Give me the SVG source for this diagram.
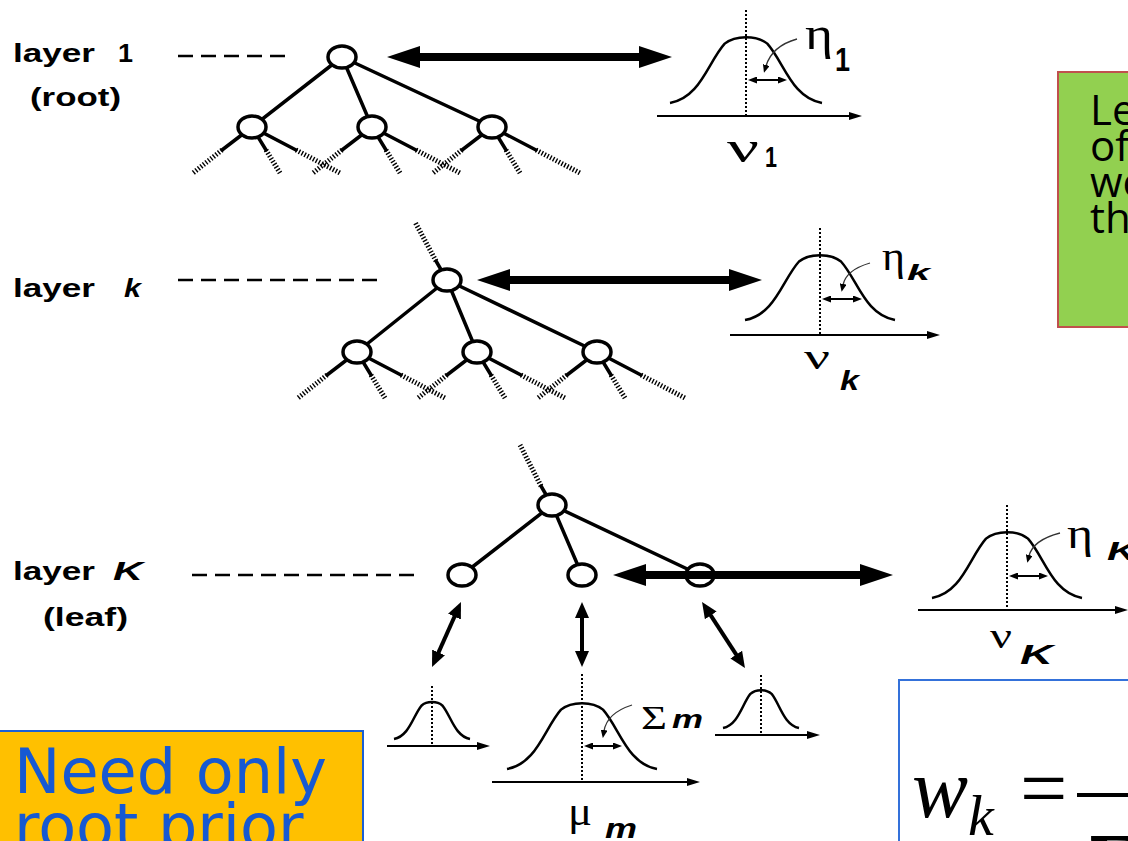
<svg xmlns="http://www.w3.org/2000/svg" width="1128" height="841" viewBox="0 0 1128 841">
<defs>
<style>
.lbl{font-family:"Liberation Sans",Arial,sans-serif;font-weight:bold;fill:#000}
.it{font-style:italic}
.gr{font-family:"Liberation Serif","Times New Roman",serif;fill:#000}
.edge{stroke:#000;stroke-width:3.5;fill:none;stroke-linecap:round}
.hatch{stroke:#000;stroke-width:5;stroke-dasharray:1.4 1.8;fill:none}
.node{fill:#fff;stroke:#000;stroke-width:3.5}
.dash{stroke:#000;stroke-width:2.5;stroke-dasharray:15 8}
.big{stroke:#000;stroke-width:8;marker-start:url(#bigHead);marker-end:url(#bigHead)}
.small{stroke:#000;stroke-width:4;marker-start:url(#smHead);marker-end:url(#smHead)}
.bell{fill:none;stroke:#000;stroke-width:2.5}
.axis{stroke:#000;stroke-width:2;marker-end:url(#axHead)}
.dot{stroke:#000;stroke-width:2;stroke-dasharray:2 2}
.wid{stroke:#000;stroke-width:2;marker-start:url(#wHead);marker-end:url(#wHead)}
.ptr{stroke:#333;stroke-width:1.3;fill:none;marker-end:url(#pHead)}
</style>
<marker id="bigHead" markerUnits="userSpaceOnUse" markerWidth="33" markerHeight="22" refX="13" refY="11" orient="auto-start-reverse"><path d="M0,0 L33,11 L0,22 z" fill="#000"/></marker>
<marker id="smHead" markerUnits="userSpaceOnUse" markerWidth="16" markerHeight="14" refX="6" refY="7" orient="auto-start-reverse"><path d="M0,0 L16,7 L0,14 z" fill="#000"/></marker>
<marker id="axHead" markerUnits="userSpaceOnUse" markerWidth="13" markerHeight="8" refX="3" refY="4" orient="auto"><path d="M0,0 L13,4 L0,8 z" fill="#000"/></marker>
<marker id="wHead" markerUnits="userSpaceOnUse" markerWidth="9" markerHeight="7" refX="2" refY="3.5" orient="auto-start-reverse"><path d="M0,0 L9,3.5 L0,7 z" fill="#000"/></marker>
<marker id="pHead" markerUnits="userSpaceOnUse" markerWidth="8" markerHeight="7" refX="1" refY="3.5" orient="auto"><path d="M0,0 L8,3.5 L0,7 z" fill="#000"/></marker>
<g id="sub">
<line class="edge" x1="0" y1="0" x2="-30" y2="23"/><line class="hatch" x1="-30" y1="23" x2="-59" y2="46"/>
<line class="edge" x1="0" y1="0" x2="14" y2="23"/><line class="hatch" x1="14" y1="23" x2="28" y2="46"/>
<line class="edge" x1="0" y1="0" x2="44" y2="23"/><line class="hatch" x1="44" y1="23" x2="88" y2="46"/>
</g>
</defs>
<rect width="1128" height="841" fill="#fff"/>

<g id="labels">
<text class="lbl" x="13" y="62" font-size="26" textLength="82" lengthAdjust="spacingAndGlyphs">layer</text>
<text class="lbl" x="118" y="62" font-size="26" textLength="15" lengthAdjust="spacingAndGlyphs">1</text>
<text class="lbl" x="30" y="106" font-size="26" textLength="91" lengthAdjust="spacingAndGlyphs">(root)</text>
<text class="lbl" x="13" y="297" font-size="26" textLength="82" lengthAdjust="spacingAndGlyphs">layer</text>
<text class="lbl it" x="124" y="297" font-size="26" textLength="17" lengthAdjust="spacingAndGlyphs">k</text>
<text class="lbl" x="13" y="580" font-size="26" textLength="82" lengthAdjust="spacingAndGlyphs">layer</text>
<text class="lbl it" x="113" y="580" font-size="26" textLength="30" lengthAdjust="spacingAndGlyphs">K</text>
<text class="lbl" x="43" y="626" font-size="26" textLength="85" lengthAdjust="spacingAndGlyphs">(leaf)</text>
</g>

<g id="connectors">
<line class="dash" x1="178" y1="56" x2="286" y2="56"/>
<line class="dash" x1="178" y1="280" x2="382" y2="280"/>
<line class="dash" x1="192" y1="575" x2="418" y2="575"/>
<line class="edge" x1="342" y1="57" x2="252" y2="127"/>
<line class="edge" x1="342" y1="57" x2="372" y2="127"/>
<line class="edge" x1="342" y1="57" x2="492" y2="127"/>
<use href="#sub" x="252" y="127"/><use href="#sub" x="372" y="127"/><use href="#sub" x="492" y="127"/>
<line class="edge" x1="447" y1="280" x2="436" y2="261"/><line class="hatch" x1="436" y1="261" x2="415" y2="222"/>
<line class="edge" x1="447" y1="280" x2="357" y2="352"/>
<line class="edge" x1="447" y1="280" x2="477" y2="352"/>
<line class="edge" x1="447" y1="280" x2="597" y2="352"/>
<use href="#sub" x="357" y="352"/><use href="#sub" x="477" y="352"/><use href="#sub" x="597" y="352"/>
<line class="edge" x1="552" y1="505" x2="541" y2="486"/><line class="hatch" x1="541" y1="486" x2="520" y2="445"/>
<line class="edge" x1="552" y1="505" x2="462" y2="575"/>
<line class="edge" x1="552" y1="505" x2="582" y2="575"/>
<line class="edge" x1="552" y1="505" x2="700" y2="575"/>
</g>

<g id="n1root"><ellipse class="node" cx="342" cy="57" rx="14" ry="11"/></g>
<g id="n1a"><ellipse class="node" cx="252" cy="127" rx="14" ry="11"/></g>
<g id="n1b"><ellipse class="node" cx="372" cy="127" rx="14" ry="11"/></g>
<g id="n1c"><ellipse class="node" cx="492" cy="127" rx="14" ry="11"/></g>
<g id="nkroot"><ellipse class="node" cx="447" cy="280" rx="14" ry="11"/></g>
<g id="nka"><ellipse class="node" cx="357" cy="352" rx="14" ry="11"/></g>
<g id="nkb"><ellipse class="node" cx="477" cy="352" rx="14" ry="11"/></g>
<g id="nkc"><ellipse class="node" cx="597" cy="352" rx="14" ry="11"/></g>
<g id="nKroot"><ellipse class="node" cx="552" cy="505" rx="14" ry="11"/></g>
<g id="nKa"><ellipse class="node" cx="462" cy="575" rx="14" ry="11"/></g>
<g id="nKb"><ellipse class="node" cx="582" cy="575" rx="14" ry="11"/></g>
<g id="nKc"><ellipse class="node" cx="700" cy="575" rx="14" ry="11"/></g>

<g id="arrows">
<line class="big" x1="407" y1="57" x2="652" y2="57"/>
<line class="big" x1="497" y1="280" x2="742" y2="280"/>
<line class="big" x1="633" y1="575" x2="873" y2="575"/>
<line class="small" x1="456.9" y1="611.2" x2="436.1" y2="657.9"/>
<line class="small" x1="582" y1="612" x2="582" y2="657"/>
<line class="small" x1="707.5" y1="610.4" x2="739.5" y2="659.6"/>
</g>

<g id="g1">
<line class="dot" x1="746" y1="10" x2="746" y2="116"/>
<path class="bell" d="M670,103 C700.4,97.7 708,62.1 724.7,43.6 C735.4,35 756.6,35 767.3,43.6 C784,62.1 791.6,97.7 822,103"/>
<line class="axis" x1="657" y1="116" x2="852" y2="116"/>
<line class="wid" x1="755" y1="80" x2="780" y2="80"/>
<path class="ptr" d="M797,39 Q772,46 766,66"/>
<text class="gr" x="805" y="49" font-size="46" textLength="28" lengthAdjust="spacingAndGlyphs">η</text>
<text class="lbl" x="835" y="71" font-size="34" textLength="15" lengthAdjust="spacingAndGlyphs">1</text>
<text class="gr" x="727" y="162" font-size="44" textLength="32" lengthAdjust="spacingAndGlyphs">ν</text>
<text class="lbl" x="765" y="167" font-size="30" textLength="12" lengthAdjust="spacingAndGlyphs">1</text>
</g>

<g id="gk">
<line class="dot" x1="820" y1="228" x2="820" y2="335"/>
<path class="bell" d="M745,320 C775,314.8 782.5,279.7 799,261.5 C809.5,253 830.5,253 841,261.5 C857.5,279.7 865,314.8 895,320"/>
<line class="axis" x1="730" y1="335" x2="930" y2="335"/>
<line class="wid" x1="829" y1="299" x2="855" y2="299"/>
<path class="ptr" d="M870,263 Q846,270 843,285"/>
<text class="gr" x="882" y="270" font-size="40" textLength="23" lengthAdjust="spacingAndGlyphs">η</text>
<text class="lbl it" x="907" y="280" font-size="22" textLength="23" lengthAdjust="spacingAndGlyphs">k</text>
<text class="gr" x="804" y="369" font-size="36" textLength="26" lengthAdjust="spacingAndGlyphs">ν</text>
<text class="lbl it" x="840" y="390" font-size="28" textLength="19" lengthAdjust="spacingAndGlyphs">k</text>
</g>

<g id="gK">
<line class="dot" x1="1007" y1="505" x2="1007" y2="610"/>
<path class="bell" d="M932,598 C962,592.7 969.5,557.1 986,538.6 C996.5,530 1017.5,530 1028,538.6 C1044.5,557.1 1052,592.7 1082,598"/>
<line class="axis" x1="918" y1="610" x2="1118" y2="610"/>
<line class="wid" x1="1016" y1="576" x2="1041" y2="576"/>
<path class="ptr" d="M1060,533 Q1033,540 1029,556"/>
<text class="gr" x="1067" y="548" font-size="44" textLength="26" lengthAdjust="spacingAndGlyphs">η</text>
<text class="lbl it" x="1107" y="560" font-size="26" textLength="30" lengthAdjust="spacingAndGlyphs">K</text>
<text class="gr" x="990" y="648" font-size="36" textLength="22" lengthAdjust="spacingAndGlyphs">ν</text>
<text class="lbl it" x="1020" y="664" font-size="28" textLength="33" lengthAdjust="spacingAndGlyphs">K</text>
</g>

<g id="gmL">
<line class="dot" x1="432" y1="686" x2="432" y2="746"/>
<path class="bell" d="M394,739 C409.2,736 413,716.1 421.4,705.7 C426.7,700.9 437.3,700.9 442.6,705.7 C451,716.1 454.8,736 470,739"/>
<line class="axis" x1="387" y1="746" x2="480" y2="746"/>
</g>
<g id="gmM">
<line class="dot" x1="582" y1="674" x2="582" y2="782"/>
<path class="bell" d="M507,769 C537,763.7 544.5,728.1 561,709.6 C571.5,701 592.5,701 603,709.6 C619.5,728.1 627,763.7 657,769"/>
<line class="axis" x1="492" y1="782" x2="690" y2="782"/>
<line class="wid" x1="591" y1="746" x2="615" y2="746"/>
<path class="ptr" d="M632,705 Q607,713 604,731"/>
<text class="gr" x="641" y="729" font-size="34" textLength="26" lengthAdjust="spacingAndGlyphs">Σ</text>
<text class="lbl it" x="672" y="728" font-size="25" textLength="31" lengthAdjust="spacingAndGlyphs">m</text>
<text class="gr" x="568" y="825" font-size="40" textLength="24" lengthAdjust="spacingAndGlyphs">μ</text>
<text class="lbl it" x="605" y="838" font-size="28" textLength="32" lengthAdjust="spacingAndGlyphs">m</text>
</g>
<g id="gmR">
<line class="dot" x1="761" y1="675" x2="761" y2="735"/>
<path class="bell" d="M723,728 C738.2,725 742,704.4 750.4,693.8 C755.7,688.9 766.3,688.9 771.6,693.8 C780,704.4 783.8,725 799,728"/>
<line class="axis" x1="715" y1="735" x2="810" y2="735"/>
</g>

<g id="greenNote">
<rect x="1058" y="72" width="100" height="255" fill="#92D050" stroke="#C0504D" stroke-width="2"/>
<g font-family="'Open Sans','Noto Sans',sans-serif" font-size="42" fill="#000">
<text x="1090" y="125">Le</text>
<text x="1090" y="161">of</text>
<text x="1090" y="197">we</text>
<text x="1090" y="233">th</text>
</g>
</g>

<g id="yellowNote">
<rect x="-2" y="731" width="365" height="130" fill="#FFC000" stroke="#1A5FD6" stroke-width="2"/>
<g font-family="'DejaVu Sans',Verdana,sans-serif" font-size="62" fill="#1659D2">
<text x="14" y="793">Need only</text>
<text x="14" y="848">root prior</text>
</g>
</g>

<g id="formulaBox">
<rect x="899" y="680" width="260" height="200" fill="#fff" stroke="#3471DA" stroke-width="2"/>
<g font-family="'Liberation Serif','Times New Roman',serif" fill="#000">
<text x="912" y="817" font-size="84" font-style="italic">w</text>
<text x="968" y="835" font-size="58" font-style="italic">k</text>
<text x="1020" y="817" font-size="84">=</text>
<text x="1088" y="892" font-size="84" font-weight="bold">Σ</text>
</g>
<line x1="1077" y1="795" x2="1130" y2="795" stroke="#000" stroke-width="4"/>
</g>
</svg>
